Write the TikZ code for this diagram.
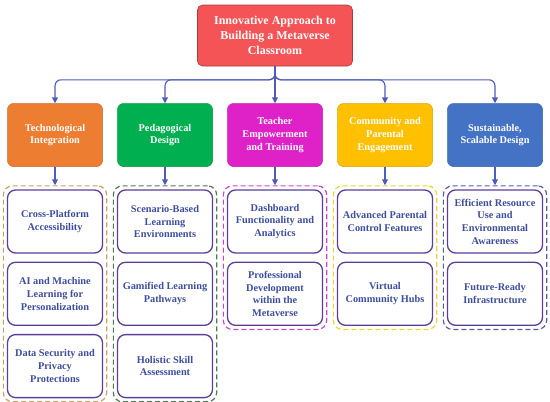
\documentclass[tikz,border=0pt]{standalone}
\usepackage{fontspec}
\setmainfont{Liberation Serif}
\usepackage{xcolor}
\usetikzlibrary{arrows.meta, positioning, fit}
\definecolor{headred}  {RGB}{245, 84, 86}
\definecolor{techorg}  {RGB}{237,125, 49}
\definecolor{pedgreen} {RGB}{  0,176, 80}
\definecolor{teachmag} {RGB}{222, 34,200}
\definecolor{commgold} {RGB}{255,192,  0}
\definecolor{sustblue} {RGB}{ 68,114,196}
\definecolor{arrblue}  {RGB}{ 78, 92,184}
\definecolor{itemline} {RGB}{ 92, 62,154}
\definecolor{itemtext} {RGB}{ 62, 78,158}
\definecolor{grptan}   {RGB}{200,162, 96}
\definecolor{grpgreen} {RGB}{ 78,122, 82}
\definecolor{grpmag}   {RGB}{204, 68,204}
\definecolor{grpyel}   {RGB}{228,216, 48}
\definecolor{grpblue}  {RGB}{ 90, 90,176}

\begin{document}
\begin{tikzpicture}[x=1pt, y=-1pt,
  head/.style={
    rectangle, rounded corners=5pt,
    draw=headred!70!black, fill=headred, line width=0.6pt,
    minimum width=155pt, minimum height=61pt,
    font=\fontsize{12}{15}\selectfont\bfseries, text=white,
    align=center, inner sep=2pt},
  cat/.style={
    rectangle, rounded corners=6pt,
    draw=#1!85!black, fill=#1, line width=0.5pt,
    minimum width=95pt, minimum height=63pt,
    font=\fontsize{10.3}{12.7}\selectfont\bfseries, text=white,
    align=center, inner sep=2pt},
  item/.style={
    rectangle, rounded corners=8pt,
    draw=itemline, fill=white, line width=1.3pt,
    minimum width=95pt, minimum height=63pt,
    font=\fontsize{10.3}{12.7}\selectfont\bfseries, text=itemtext,
    align=center, inner sep=2pt},
  grp/.style={
    rectangle, rounded corners=9pt, draw=#1, line width=1.2pt,
    dash pattern=on 5pt off 3pt, inner sep=3.5pt},
  arr/.style={-{Triangle[width=6pt,length=6pt]}, line width=1.1pt,
    arrblue, rounded corners=6pt}
]
  \useasboundingbox (0,0) rectangle (550,402);
  \node[head] (top) at (275,35.5)
    {Innovative Approach to\\Building a Metaverse\\Classroom};
  % categories
  \node[cat=techorg]  (tech)  at (55,135)  {Technological\\Integration};
  \node[cat=pedgreen] (ped)   at (165,135) {Pedagogical\\Design};
  \node[cat=teachmag] (teach) at (275,135) {Teacher\\Empowerment\\and Training};
  \node[cat=commgold] (comm)  at (385,135) {Community and\\Parental\\Engagement};
  \node[cat=sustblue] (sust)  at (495,135) {Sustainable,\\Scalable Design};
  % items
  \node[item] (tech1) at (55,221.5) {Cross-Platform\\Accessibility};
  \node[item, below=8pt of tech1] (tech2)
    {AI and Machine\\Learning for\\Personalization};
  \node[item, below=8pt of tech2] (tech3)
    {Data Security and\\Privacy\\Protections};
  \node[item] (ped1) at (165,221.5) {Scenario-Based\\Learning\\Environments};
  \node[item, below=8pt of ped1] (ped2) {Gamified Learning\\Pathways};
  \node[item, below=8pt of ped2] (ped3) {Holistic Skill\\Assessment};
  \node[item] (teach1) at (275,221.5)
    {Dashboard\\Functionality and\\Analytics};
  \node[item, below=8pt of teach1] (teach2)
    {Professional\\Development\\within the\\Metaverse};
  \node[item] (comm1) at (385,221.5) {Advanced Parental\\Control Features};
  \node[item, below=8pt of comm1] (comm2) {Virtual\\Community Hubs};
  \node[item] (sust1) at (495,221.5)
    {Efficient Resource\\Use and\\Environmental\\Awareness};
  \node[item, below=8pt of sust1] (sust2) {Future-Ready\\Infrastructure};
  % groups
  \node[grp=grptan,   fit=(tech1)(tech3)]   (techgrp)  {};
  \node[grp=grpgreen, fit=(ped1)(ped3)]     (pedgrp)   {};
  \node[grp=grpmag,   fit=(teach1)(teach2)] (teachgrp) {};
  \node[grp=grpyel,   fit=(comm1)(comm2)]   (commgrp)  {};
  \node[grp=grpblue,  fit=(sust1)(sust2)]   (sustgrp)  {};
  % Arrows
  \draw[arr] (top.south) -- ++(0,13.5) -| (tech.north);
  \draw[arr] (top.south) -- ++(0,13.5) -| (ped.north);
  \draw[arr] (top.south) -- (teach.north);
  \draw[arr] (top.south) -- ++(0,13.5) -| (comm.north);
  \draw[arr] (top.south) -- ++(0,13.5) -| (sust.north);
  \draw[arr] (tech)  -- (techgrp);
  \draw[arr] (ped)   -- (pedgrp);
  \draw[arr] (teach) -- (teachgrp);
  \draw[arr] (comm)  -- (commgrp);
  \draw[arr] (sust)  -- (sustgrp);
\end{tikzpicture}
\end{document}
